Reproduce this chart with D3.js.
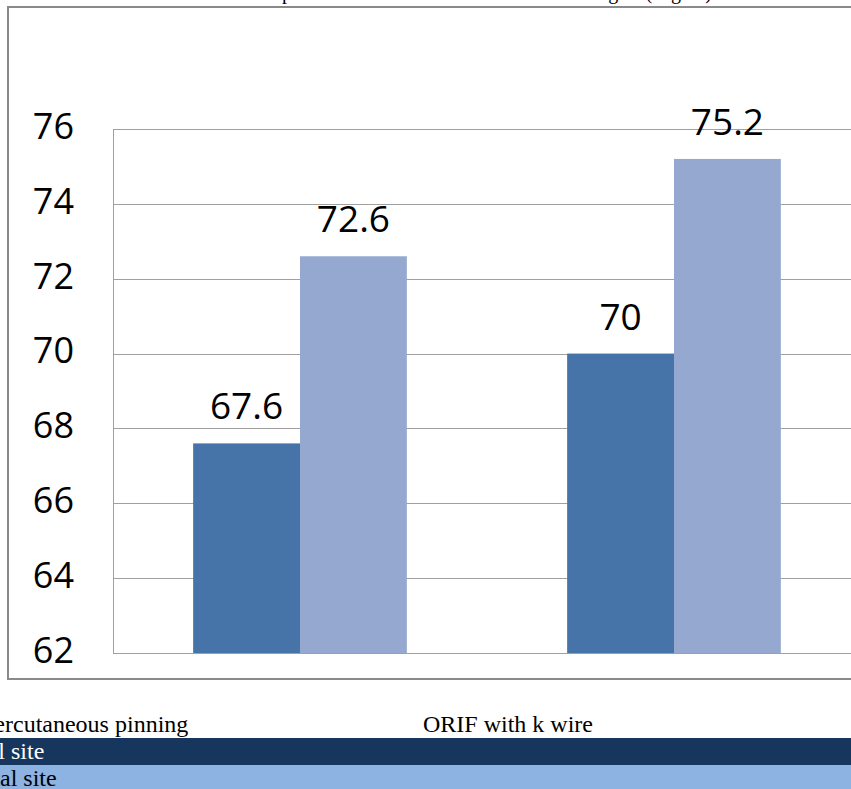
<!DOCTYPE html>
<html>
<head>
<meta charset="utf-8">
<script src="https://cdn.jsdelivr.net/npm/d3@7"></script>
<style>
  html, body { margin: 0; padding: 0; background: #fff; overflow: hidden; }
  svg { display: block; }
</style>
</head>
<body>
<svg id="chart" width="851" height="789"></svg>
<script>
// ---- data ----
const titleText = "Comparison of the mean of the Baumann's angles (degree)";
const categories = ["Percutaneous pinning", "ORIF with k wire"];
const seriesNames = ["Proximal site", "Distal site"];
const proximalValues = [67.6, 70];
const distalValues = [72.6, 75.2];
const yTickValues = [62, 64, 66, 68, 70, 72, 74, 76];

const seriesColors = ["#4674a8", "#95a9d0"];
const rowColors = ["#17365d", "#8db3e2"];
const rowTextColors = ["#ffffff", "#000000"];

const svg = d3.select("#chart");

// outer chart border
svg.append("rect")
  .attr("x", 8).attr("y", 7)
  .attr("width", 900).attr("height", 672)
  .attr("fill", "#fff")
  .attr("stroke", "#8a8a8a")
  .attr("stroke-width", 2);

// cropped title (only descenders visible)
svg.append("text")
  .attr("x", 243).attr("y", -1)
  .attr("font-family", "'Times New Roman', 'Liberation Serif', serif")
  .attr("font-size", 20)
  .attr("fill", "#000")
  .text(titleText);

const plot = { left: 113, right: 861, top: 129, bottom: 653 };

const y = d3.scaleLinear().domain([62, 76]).range([plot.bottom, plot.top]);
const x0 = d3.scaleBand().domain(categories).range([plot.left, plot.right]);
const x1 = d3.scaleBand().domain(seriesNames).range([0, x0.bandwidth()])
  .paddingInner(0).paddingOuter(0.75);

// gridlines
svg.append("g")
  .selectAll("line")
  .data(yTickValues)
  .join("line")
  .attr("x1", plot.left).attr("x2", plot.right)
  .attr("y1", d => Math.round(y(d)) + 0.5)
  .attr("y2", d => Math.round(y(d)) + 0.5)
  .attr("stroke", "#a0a0a0")
  .attr("stroke-width", 1);

// left axis line
svg.append("line")
  .attr("x1", plot.left + 0.5).attr("x2", plot.left + 0.5)
  .attr("y1", plot.top).attr("y2", plot.bottom + 1)
  .attr("stroke", "#a0a0a0");

// y axis labels
const yAxis = d3.axisLeft(y).tickValues(yTickValues).tickSize(0).tickPadding(39)
  .tickFormat(d3.format("d"));
const gy = svg.append("g").attr("transform", `translate(${plot.left},0)`).call(yAxis);
gy.select(".domain").remove();
gy.selectAll("text")
  .attr("font-family", "'Open Sans', sans-serif")
  .attr("font-size", 36)
  .attr("fill", "#000")
  .attr("dy", "0.26em");

// bars
const series = [proximalValues, distalValues];
const groups = svg.append("g")
  .selectAll("g")
  .data(categories)
  .join("g")
  .attr("transform", d => `translate(${x0(d)},0)`);

groups.selectAll("rect")
  .data((c, ci) => seriesNames.map((s, si) => ({ s, si, v: series[si][ci] })))
  .join("rect")
  .attr("x", d => x1(d.s))
  .attr("y", d => y(d.v))
  .attr("width", x1.bandwidth())
  .attr("height", d => y(62) - y(d.v))
  .attr("fill", d => seriesColors[d.si]);

groups.selectAll("text")
  .data((c, ci) => seriesNames.map((s, si) => ({ s, si, v: series[si][ci] })))
  .join("text")
  .attr("x", d => x1(d.s) + x1.bandwidth() / 2)
  .attr("y", d => y(d.v) - 24)
  .attr("text-anchor", "middle")
  .attr("font-family", "'Open Sans', sans-serif")
  .attr("font-size", 37)
  .attr("fill", "#000")
  .text(d => d.v);

// table below (cropped)
const tableFont = "'Times New Roman', 'Liberation Serif', serif";
const headerX = [-19, 423];
svg.append("g")
  .selectAll("text")
  .data(categories)
  .join("text")
  .attr("x", (d, i) => headerX[i])
  .attr("y", 732)
  .attr("font-family", tableFont)
  .attr("font-size", 24)
  .attr("fill", "#000")
  .text(d => d);

const rowY = [738, 765];
const rowH = [27, 30];
const rowTextX = [-83, -40];
svg.append("g")
  .selectAll("rect")
  .data(seriesNames)
  .join("rect")
  .attr("x", 0).attr("y", (d, i) => rowY[i])
  .attr("width", 851).attr("height", (d, i) => rowH[i])
  .attr("fill", (d, i) => rowColors[i]);

svg.append("g")
  .selectAll("text")
  .data(seriesNames)
  .join("text")
  .attr("x", (d, i) => rowTextX[i])
  .attr("y", (d, i) => rowY[i] + 21)
  .attr("font-family", tableFont)
  .attr("font-size", 24)
  .attr("fill", (d, i) => rowTextColors[i])
  .text(d => d);
</script>
</body>
</html>
